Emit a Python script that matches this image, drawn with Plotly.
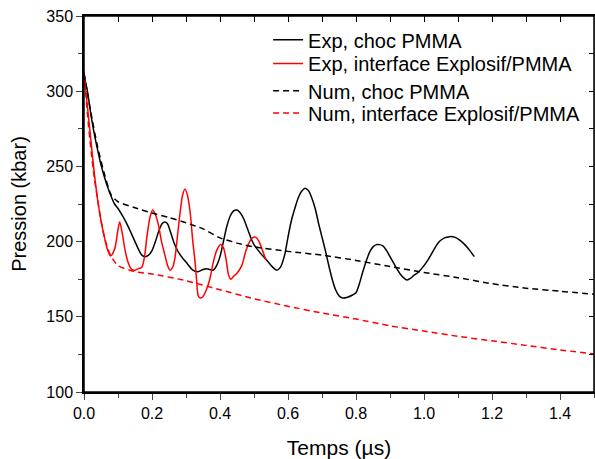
import plotly.graph_objects as go

# Exp, choc PMMA (black solid)
exp_choc_t = [0, 0.01, 0.02, 0.03, 0.04, 0.05, 0.06, 0.07, 0.08, 0.09, 0.1, 0.11, 0.12, 0.13, 0.14, 0.15,
              0.16, 0.17, 0.18, 0.19, 0.2, 0.21, 0.22, 0.23, 0.238, 0.245, 0.255, 0.265, 0.275, 0.29, 0.305,
              0.32, 0.335, 0.35, 0.36, 0.37, 0.38, 0.39, 0.4, 0.41, 0.42, 0.43, 0.44, 0.45, 0.46, 0.47, 0.48,
              0.49, 0.5, 0.52, 0.54, 0.555, 0.567, 0.578, 0.59, 0.6, 0.61, 0.62, 0.63, 0.64, 0.65, 0.66, 0.67,
              0.68, 0.69, 0.7, 0.71, 0.72, 0.73, 0.74, 0.75, 0.76, 0.775, 0.79, 0.8, 0.81, 0.82, 0.83, 0.84,
              0.85, 0.86, 0.87, 0.88, 0.89, 0.9, 0.91, 0.92, 0.93, 0.94, 0.95, 0.96, 0.97, 0.985, 1.0, 1.015,
              1.03, 1.045, 1.06, 1.075, 1.09, 1.105, 1.12, 1.135, 1.148]
exp_choc_p = [311, 300, 285, 272, 261, 251, 243, 236, 230, 225, 222, 218.5, 214.5, 210, 205, 200,
              195, 191, 190, 191, 194, 200, 207, 212, 213, 212, 206, 199, 194, 189, 185,
              181, 180, 181.5, 182, 181.5, 181, 184, 190, 200, 210, 217, 220.5, 221, 219, 215, 209,
              203, 198, 192, 187, 183, 181, 183, 191, 203, 214, 222, 229, 233.5, 235.5, 234, 229,
              222, 212, 203, 194, 184, 175, 168, 164, 162.5, 163, 164.5, 166, 172, 180, 187, 193,
              196.5, 198, 198, 197, 194, 190, 186, 182, 178.5, 176, 174.5, 175.5, 177.5, 180, 184, 189,
              195, 200, 202.5, 203.3, 203, 201, 198, 194, 190]

# Exp, interface Explosif/PMMA (red solid)
exp_int_t = [0, 0.01, 0.02, 0.03, 0.04, 0.05, 0.06, 0.07, 0.078, 0.09, 0.1, 0.105, 0.113, 0.121, 0.13,
             0.14, 0.15, 0.16, 0.17, 0.178, 0.186, 0.195, 0.202, 0.21, 0.219, 0.228, 0.238, 0.246, 0.253,
             0.261, 0.268, 0.275, 0.283, 0.29, 0.297, 0.304, 0.312, 0.32, 0.326, 0.331, 0.336, 0.342, 0.35,
             0.36, 0.37, 0.38, 0.39, 0.402, 0.41, 0.418, 0.425, 0.432, 0.44, 0.45, 0.464, 0.475, 0.485,
             0.495, 0.505, 0.515, 0.525, 0.535]
exp_int_p = [313, 290, 268, 246, 228, 214, 203, 194, 190.5, 195, 208, 213, 205, 194, 186,
             181.6, 181, 182, 183, 190, 205, 217, 221, 218, 211, 200, 191, 184, 181,
             183, 190, 204, 220, 231, 235, 231, 220, 200, 188, 175, 164, 162.5, 163.5,
             168, 175, 186, 194, 198, 196, 188, 178, 175, 177, 179, 184, 193, 199,
             202.5, 203, 200, 194, 188]

# Num, choc PMMA (black dashed)
num_choc_t = [0, 0.02, 0.04, 0.06, 0.08, 0.1, 0.15, 0.2, 0.25, 0.3, 0.35, 0.4, 0.45, 0.5, 0.6, 0.7,
              0.8, 0.9, 1.0, 1.1, 1.2, 1.3, 1.4, 1.5]
num_choc_p = [312, 286, 263, 245, 231, 226.5, 222.5, 219, 216, 212.5, 208.5, 202.5, 199, 196.5, 193.5, 191,
              187.5, 183.5, 179.5, 176, 172, 169, 167, 165]

# Num, interface Explosif/PMMA (red dashed)
num_int_t = [0, 0.01, 0.02, 0.03, 0.04, 0.05, 0.06, 0.07, 0.08, 0.1, 0.15, 0.2, 0.3, 0.4, 0.5, 0.6, 0.7,
             0.8, 0.9, 1.0, 1.1, 1.2, 1.3, 1.4, 1.5]
num_int_p = [313, 285, 262, 243, 228, 214, 203, 195, 190, 184, 180, 178.5, 174, 168, 162, 157, 152.5,
             148.5, 144, 140.5, 137, 134, 131, 128, 125.3]

series_names = ["Exp, choc PMMA", "Exp, interface Explosif/PMMA",
                "Num, choc PMMA", "Num, interface Explosif/PMMA"]

FONT = "Liberation Sans, Arial, sans-serif"

fig = go.Figure()
fig.add_trace(go.Scatter(x=exp_choc_t, y=exp_choc_p, mode="lines", name=series_names[0], legend="legend",
                         line=dict(color="black", width=1.5, shape="spline", smoothing=0.8)))
fig.add_trace(go.Scatter(x=exp_int_t, y=exp_int_p, mode="lines", name=series_names[1], legend="legend2",
                         line=dict(color="red", width=1.5, shape="spline", smoothing=0.8)))
fig.add_trace(go.Scatter(x=num_choc_t, y=num_choc_p, mode="lines", name=series_names[2], legend="legend3",
                         line=dict(color="black", width=1.5, dash="6px,4px", shape="spline", smoothing=0.6)))
# drawn on a second, identical set of axes (top / right inward ticks)
fig.add_trace(go.Scatter(x=num_int_t, y=num_int_p, mode="lines", name=series_names[3], legend="legend4",
                         xaxis="x2", yaxis="y2",
                         line=dict(color="red", width=1.5, dash="6px,4px", shape="spline", smoothing=0.6)))

def leg(ypos):
    return dict(x=0.361, y=ypos, xanchor="left", yanchor="middle", bgcolor="rgba(0,0,0,0)",
                font=dict(size=20, family=FONT, color="black"), borderwidth=0)

fig.update_layout(
    width=595, height=459,
    margin=dict(l=84, r=1, t=16, b=67, autoexpand=False),
    paper_bgcolor="white", plot_bgcolor="rgba(0,0,0,0)",
    font=dict(family=FONT, color="black"),
    showlegend=True,
    legend=leg(0.937), legend2=leg(0.8736), legend3=leg(0.8013), legend4=leg(0.7418),
    xaxis=dict(domain=[0, 1], range=[0, 1.5], dtick=0.2, tick0=0, tickformat=".1f", ticks="outside",
               ticklen=6, tickwidth=1.3, showline=True, mirror=True, linecolor="black", linewidth=1.5,
               showgrid=False, zeroline=False, tickfont=dict(size=16), automargin=False,
               ticklabeloverflow="allow",
               minor=dict(dtick=0.1, ticks="outside", ticklen=4, tickwidth=1.3, showgrid=False),
               title=dict(text="Temps (\u00b5s)", font=dict(size=21), standoff=20)),
    yaxis=dict(domain=[0, 1], range=[100, 350], dtick=50, tick0=100, ticks="outside", ticklen=6,
               tickwidth=1.3, showline=True, mirror=True, linecolor="black", linewidth=1.5,
               showgrid=False, zeroline=False, tickfont=dict(size=16), automargin=False,
               ticklabeloverflow="allow",
               minor=dict(dtick=25, ticks="outside", ticklen=4, tickwidth=1.3, showgrid=False),
               title=dict(text="Pression (kbar)", font=dict(size=20), standoff=14)),
    xaxis2=dict(domain=[0, 1], range=[0, 1.5], side="top", anchor="y2", dtick=0.1, tick0=0,
                ticks="inside", ticklen=6, tickwidth=1.3, tickcolor="black", showticklabels=False,
                showline=True, linecolor="black", linewidth=1.5, showgrid=False, zeroline=False,
                automargin=False),
    yaxis2=dict(domain=[0, 1], range=[100, 350], side="right", anchor="x2", dtick=25, tick0=100,
                ticks="inside", ticklen=5, tickwidth=1.3, tickcolor="black", showticklabels=False,
                showline=True, linecolor="#888888", linewidth=1.5, showgrid=False, zeroline=False,
                automargin=False),
    # plot frame (top and right borders)
    shapes=[dict(type="rect", xref="paper", yref="paper", x0=0, x1=1, y0=0, y1=1,
                 line=dict(color="black", width=1.5), fillcolor="rgba(0,0,0,0)", layer="above")],
)

# remove the browser's default 8px body margin so the figure fills the window exactly
fig.write_html("out.html", config={"displayModeBar": False},
               post_script="document.body.style.margin='0';")
